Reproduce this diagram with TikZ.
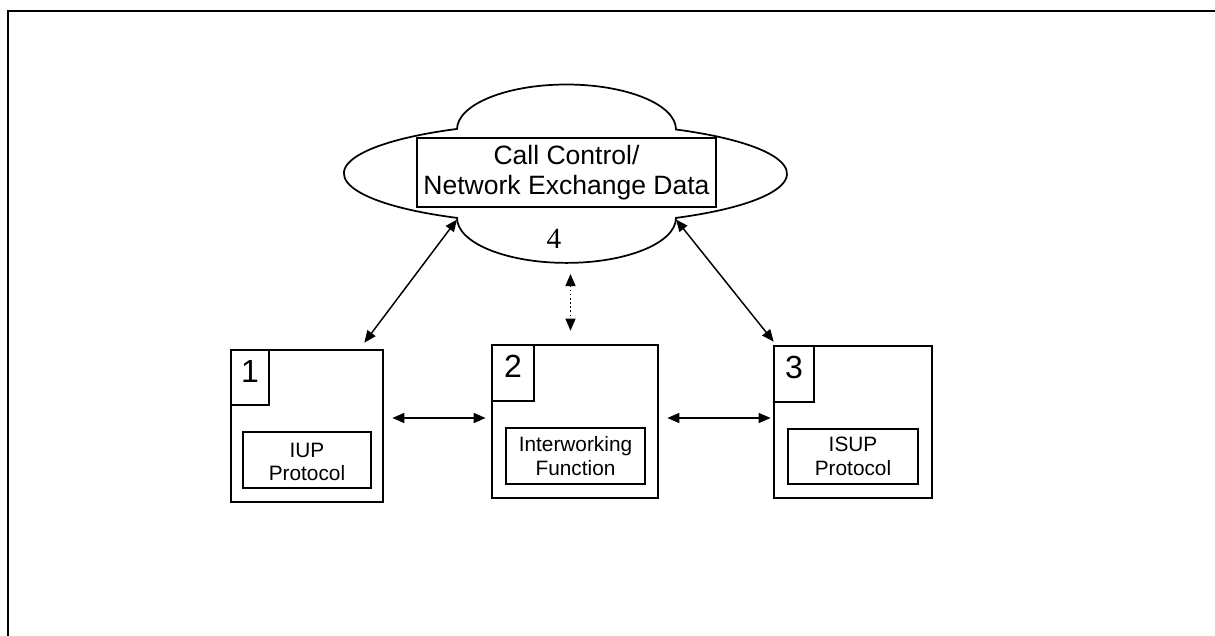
\documentclass[tikz,border=0pt]{standalone}
\usepackage{fontspec}
\setmainfont{Liberation Sans}
\newfontfamily\numfont{Liberation Serif}
\usetikzlibrary{arrows.meta,calc,fit}
\begin{document}
\begin{tikzpicture}[x=0.75pt,y=0.75pt,
  frame/.style={line width=1.75pt},
  unitbox/.style={draw,line width=2pt,inner sep=0pt},
  numbox/.style={draw,line width=2pt,inner sep=0pt},
  funcbox/.style={draw,line width=2pt,inner sep=0pt},
  databox/.style={draw,line width=1.3pt,inner sep=0pt},
  cloudline/.style={line width=1.3pt},
  bigtext/.style={align=center,inner sep=0pt,font=\fontsize{19.9pt}{22.3pt}\selectfont},
  functext/.style={align=center,inner sep=0pt,font=\fontsize{15.6pt}{17.5pt}\selectfont},
  digit/.style={anchor=base,inner sep=0pt,font=\fontsize{24pt}{28pt}\selectfont},
  tip/.tip={Triangle[length=9pt,width=7.5pt]},
  link/.style={line width=1.1pt,tip-tip},
  dotlink/.style={line width=1.1pt,dotted,tip-tip},
]
\useasboundingbox (0,0) rectangle (1215,-636);

% open frame: top and left edges only
\draw[frame] (1215,-11) -- (8,-11) -- (8,-636);

% cloud outline built from a wide ellipse with a bump above and below
\draw[cloudline] (457,-129.5)
  arc[start angle=180,end angle=0,x radius=109.5,y radius=45]
  arc[start angle=60.07,end angle=-60.07,x radius=221.5,y radius=51]
  arc[start angle=0,end angle=-180,x radius=109.5,y radius=45]
  arc[start angle=240.7,end angle=119.3,x radius=221.5,y radius=51] -- cycle;
\coordinate (cjl) at (457,-219.5);
\coordinate (cjr) at (676,-219.5);
\coordinate (cb) at (566.5,-263);

\node[databox,fit={(417,-138)(716,-207)}] (data) {};
\node[bigtext] (datatext) at (data.center) {Call Control/\\Network Exchange Data};
\node[anchor=base,inner sep=0pt,font=\numfont\fontsize{22pt}{26pt}\selectfont] (four) at (554,-248) {4};

% the three units
\node[unitbox,fit={(231,-350)(383,-502)}] (b1) {};
\node[numbox,fit={(231,-350)(269,-405)}] (n1) {};
\node[digit] (d1) at ($(n1.north)+(0,-34)$) {1};
\node[funcbox,fit={(243,-432)(371,-488)}] (p1) {};
\node[functext] (t1) at ($(p1.center)+(0,-2)$) {IUP\\Protocol};

\node[unitbox,fit={(492,-345)(658,-498)}] (b2) {};
\node[numbox,fit={(492,-345)(534,-401)}] (n2) {};
\node[digit] (d2) at ($(n2.north)+(0,-34)$) {2};
\node[funcbox,fit={(506,-428)(645,-484)}] (p2) {};
\node[functext] (t2) at (p2.center) {Interworking\\Function};

\node[unitbox,fit={(774,-346)(932,-498)}] (b3) {};
\node[numbox,fit={(774,-346)(814,-402)}] (n3) {};
\node[digit] (d3) at ($(n3.north)+(0,-34)$) {3};
\node[funcbox,fit={(788,-429)(918,-484)}] (p3) {};
\node[functext] (t3) at (p3.center) {ISUP\\Protocol};

% connectors
\draw[link] ($(b1.east)+(8,8)$) -- ($(b2.west)+(-5,3.5)$);
\draw[link] ($(b2.east)+(8,3.5)$) -- ($(b3.west)+(-2,4)$);
\draw[link] (cjl) -- ($(b1.north east)+(-20,6)$);
\draw[link] (cjr) -- ($(b3.north west)+(1,3)$);
\draw[dotlink] ($(cb)+(4,-11)$) -- ($(b2.north)+(-4.5,13)$);
\end{tikzpicture}
\end{document}
